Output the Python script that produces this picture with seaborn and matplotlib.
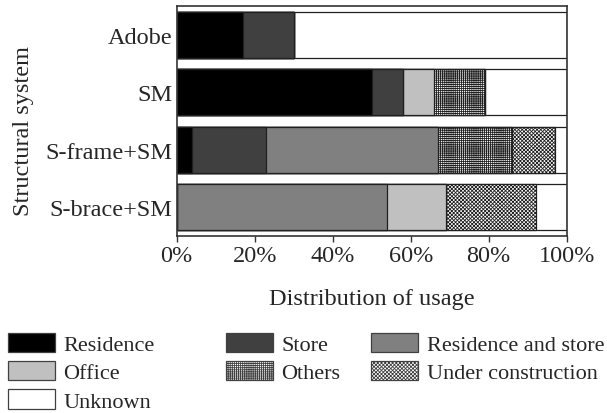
import numpy as np
import pandas as pd
import matplotlib.pyplot as plt
import seaborn as sns
from matplotlib.patches import Patch
from matplotlib.ticker import PercentFormatter

systems = ['Adobe', 'SM', 'S-frame+SM', 'S-brace+SM']
residence = [17, 50, 4, 0]
store = [13, 8, 19, 0]
res_store = [0, 0, 44, 54]
office = [0, 8, 0, 15]
others = [0, 13, 19, 0]
under_constr = [0, 0, 11, 23]
unknown = [70, 21, 3, 8]

usages = ['Residence', 'Store', 'Residence and store', 'Office',
          'Others', 'Under construction', 'Unknown']
shares = pd.DataFrame(
    dict(zip(usages, [residence, store, res_store, office,
                      others, under_constr, unknown])),
    index=systems)

styles = {
    'Residence': ('#000000', None),
    'Store': ('#404040', None),
    'Residence and store': ('#808080', None),
    'Office': ('#c0c0c0', None),
    'Others': ('#ffffff', '++++++++'),
    'Under construction': ('#ffffff', 'xxxxxxxxx'),
    'Unknown': ('#ffffff', None),
}

sns.set_style('ticks')
plt.rcParams['font.family'] = ['Liberation Serif', 'DejaVu Serif']
plt.rcParams['hatch.linewidth'] = 0.6

fig = plt.figure(figsize=(6.07, 4.14), dpi=100)
ax = fig.add_axes([176.7 / 607, 1 - 237 / 414, 390 / 607, 230 / 414])

# stacked bars: draw cumulative totals from the outermost segment inwards
cum = shares.cumsum(axis=1)
for name in reversed(usages):
    col, hatch = styles[name]
    sns.barplot(x=cum[name].values, y=systems, orient='h', ax=ax,
                color=col, saturation=1, width=0.8, errorbar=None,
                edgecolor='#202020', linewidth=0.9, hatch=hatch)

ax.set_xlim(0, 100)
ax.set_ylim(3.5, -0.5)
ax.xaxis.set_major_formatter(PercentFormatter(decimals=0))
ax.set_xticks(range(0, 101, 20))
ax.tick_params(axis='x', length=4.5, width=1, pad=2, labelsize=17.5, color='#333333')
ax.tick_params(axis='y', length=0, pad=3, labelsize=17.5)
ax.set_xlabel('Distribution of usage', fontsize=17.5, labelpad=16)
ax.set_ylabel('Structural system', fontsize=17.5)
ax.yaxis.set_label_coords(-0.366, 0.462)
for s in ax.spines.values():
    s.set_visible(True)
    s.set_color('#333333')
    s.set_linewidth(1.2)

# legend in three separately placed columns
columns = [(['Residence', 'Office', 'Unknown'], 8),
           (['Store', 'Others'], 226),
           (['Residence and store', 'Under construction'], 371)]
for names, xpix in columns:
    handles = [Patch(facecolor=styles[n][0], hatch=styles[n][1],
                     edgecolor='#404040', linewidth=0.9, label=n) for n in names]
    leg = fig.legend(handles=handles, loc='upper left',
                     bbox_to_anchor=(xpix / 607, 1 - 334 / 414),
                     frameon=False, fontsize=16, borderpad=0, borderaxespad=0,
                     handlelength=2.1, handleheight=0.95, handletextpad=0.4,
                     labelspacing=0.27)

fig.savefig('out.png', dpi=100)
